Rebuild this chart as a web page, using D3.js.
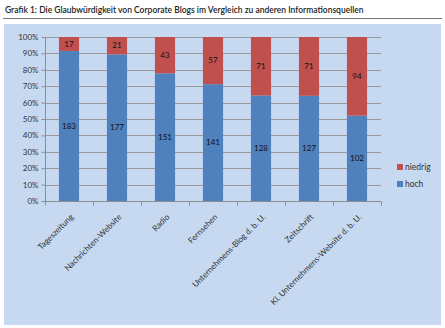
<!DOCTYPE html>
<html><head><meta charset="utf-8">
<script src="https://cdn.jsdelivr.net/npm/d3@7"></script>
<style>body{margin:0;background:#fff}svg{display:block}text{font-family:Lato,"Open Sans",sans-serif}</style>
</head><body>
<svg id="c" width="445" height="328"></svg>
<script>
const title = "Grafik 1: Die Glaubwürdigkeit von Corporate Blogs im Vergleich zu anderen Informationsquellen";
const categories = ["Tageszeitung","Nachrichten-Website","Radio","Fernsehen","Unternehmens-Blog d. b. U.","Zeitschrift","Kl. Unternehmens-Website d. b. U."];
const hoch = [183,177,151,141,128,127,102];
const niedrig = [17,21,43,57,71,71,94];
const seriesNames = ["hoch","niedrig"];
const yTicks = [0,0.1,0.2,0.3,0.4,0.5,0.6,0.7,0.8,0.9,1];
const colors = {hoch:"#4F81BD", niedrig:"#C0504D"};

const svg = d3.select("#c");
svg.append("text").attr("x",5).attr("y",13).attr("font-size",8.5).attr("font-weight",600).attr("fill","#222").text(title);
svg.append("line").attr("x1",3).attr("x2",442).attr("y1",18.5).attr("y2",18.5).attr("stroke","#777").attr("stroke-width",1);
svg.append("rect").attr("x",4).attr("y",24).attr("width",437).attr("height",301).attr("fill","#C6D9F1");

const x = d3.scaleBand().domain(categories).range([45,381]).paddingInner(0.58).paddingOuter(0.29);
const y = d3.scaleLinear().domain([0,1]).range([201,37]);

const table = categories.map((c,i)=>({cat:c,hoch:hoch[i],niedrig:niedrig[i]}));
const stack = d3.stack().keys(seriesNames).offset(d3.stackOffsetExpand)(table);

// gridlines
svg.append("g").selectAll("line").data(yTicks.slice(1)).join("line")
  .attr("x1",45).attr("x2",381).attr("y1",d=>Math.round(y(d))+0.5).attr("y2",d=>Math.round(y(d))+0.5)
  .attr("stroke","#9a9a9a").attr("stroke-width",1);

// y axis
const ya = svg.append("g").attr("transform","translate(45.5,0)")
  .call(d3.axisLeft(y).tickValues(yTicks).tickFormat(d3.format(".0%")).tickSize(4).tickPadding(3));
ya.select(".domain").attr("stroke","#8c8c8c").attr("d","M0,37V"+y(0));
ya.selectAll(".tick line").attr("stroke","#8c8c8c");
ya.selectAll(".tick text").attr("font-size",8).attr("fill","#333").style("font-family","Lato,'Open Sans',sans-serif");

// bars
const g = svg.append("g");
stack.forEach(s=>{
  g.append("g").selectAll("rect").data(s).join("rect")
    .attr("x",d=>x(d.data.cat)).attr("width",x.bandwidth())
    .attr("y",d=>y(d[1])).attr("height",d=>y(d[0])-y(d[1]))
    .attr("fill",colors[s.key]);
  g.append("g").selectAll("text").data(s).join("text")
    .attr("x",d=>x(d.data.cat)+x.bandwidth()/2).attr("y",d=>(y(d[0])+y(d[1]))/2)
    .attr("dy","0.35em").attr("text-anchor","middle").attr("font-size",8).attr("fill","#111")
    .text(d=>d.data[s.key]);
});

// x axis
const xa = svg.append("g").attr("transform","translate(0,"+(y(0)+0.5)+")");
xa.append("line").attr("x1",45).attr("x2",381).attr("stroke","#8c8c8c");
const step = x.step();
xa.selectAll("line.t").data(d3.range(categories.length+1)).join("line").attr("class","t")
  .attr("x1",i=>Math.round(45+i*step)+0.5).attr("x2",i=>Math.round(45+i*step)+0.5).attr("y1",0).attr("y2",4).attr("stroke","#8c8c8c");
xa.selectAll("text").data(categories).join("text")
  .attr("transform",d=>`translate(${x(d)+x.bandwidth()/2+3},${14}) rotate(-45)`)
  .attr("text-anchor","end").attr("dy","0.35em").attr("font-size",8.2).attr("fill","#333").text(d=>d);

// legend
const leg = svg.append("g");
["niedrig","hoch"].forEach((k,i)=>{
  leg.append("rect").attr("x",397).attr("y",164+i*17).attr("width",6).attr("height",6).attr("fill",colors[k]);
  leg.append("text").attr("x",405).attr("y",167+i*17).attr("dy","0.35em").attr("font-size",8.5).attr("fill","#333").text(k);
});
</script>
</body></html>
